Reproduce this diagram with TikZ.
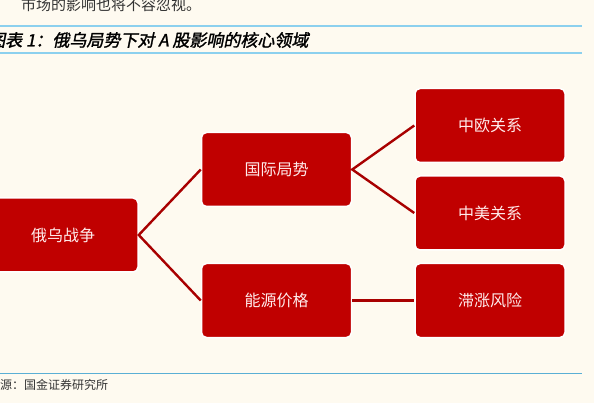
\documentclass[tikz,border=0pt]{standalone}
\usepackage{fontspec}
\newfontfamily\cjk{Noto Sans CJK SC}
\newfontfamily\cjktitel[FakeSlant=0.2,FakeBold=1.5]{Noto Sans CJK SC}
\definecolor{achtergrond}{HTML}{FEFAF0}
\definecolor{vakrood}{HTML}{C00000}
\definecolor{lijnrood}{HTML}{A80000}
\definecolor{lijnblauw}{HTML}{8CD0EE}
\definecolor{voetblauw}{HTML}{5AAFD5}
\tikzset{
  vak/.style={draw=white, line width=1.5pt, fill=vakrood, rounded corners=5pt,
    minimum width=150pt, minimum height=74pt, text=white!92!red,
    font=\cjk\fontsize{16}{16}\selectfont},
  tak/.style={draw=lijnrood, line width=2.4pt}
}
\begin{document}
\begin{tikzpicture}[x=1pt,y=-1pt]
% Achtergrond
\fill[achtergrond] (0,0) rectangle (594,403);
\useasboundingbox (0,0) rectangle (594,403);

% Kop en voet
\node[anchor=west, inner sep=0, text=black!80, font=\cjk\fontsize{15}{15}\selectfont] (zin) at (21,5) {市场的影响也将不容忽视。};
\draw[lijnblauw, line width=2pt] (0,26.5) coordinate (k1) -- (582,26.5) coordinate (k2);
\node[anchor=west, inner sep=0, font=\cjktitel\fontsize{17}{17}\selectfont] (titel) at (-12,40) {图表 1：俄乌局势下对 A 股影响的核心领域};
\draw[lijnblauw, line width=2pt] (0,53) coordinate (k3) -- (582,53) coordinate (k4);
\draw[voetblauw, line width=1pt] (0,373.5) coordinate (v1) -- (582,373.5) coordinate (v2);
\node[anchor=west, inner sep=0, text=black!80, font=\cjk\fontsize{12}{12}\selectfont] (bron) at (-12,385) {来源：国金证券研究所};

% Vakken
\node[vak] (oorlog) at (63,235) {俄乌战争};
\node[vak] (politiek) at (276.5,169.5) {国际局势};
\node[vak] (energie) at (276.5,300.5) {能源价格};
\node[vak] (euchina) at (490,125.5) {中欧关系};
\node[vak] (uschina) at (490,213) {中美关系};
\node[vak] (stagflatie) at (490,300.5) {滞涨风险};

% Takken
\draw[tak] (politiek.west) -- (oorlog.east) -- (energie.west);
\draw[tak] (euchina.west) -- (politiek.east) -- (uschina.west);
\draw[tak] (energie.east) -- (stagflatie.west);
\end{tikzpicture}
\end{document}
